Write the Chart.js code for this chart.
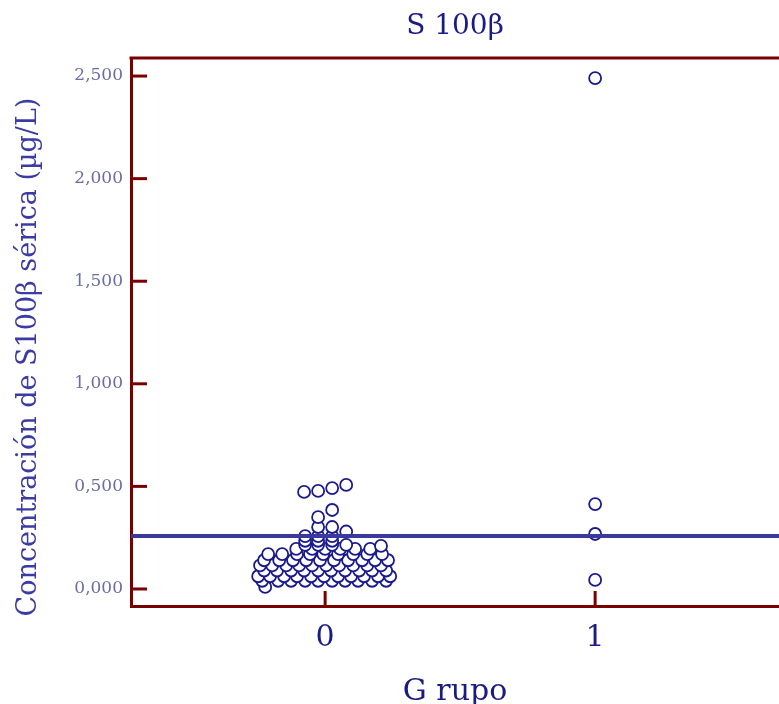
<!DOCTYPE html>
<html>
<head>
<meta charset="utf-8">
<script src="https://cdn.jsdelivr.net/npm/chart.js@4/dist/chart.umd.min.js"></script>
<style>
  html, body { margin: 0; padding: 0; background: #fff; }
  #wrap { width: 779px; height: 704px; }
</style>
</head>
<body>
<div id="wrap"><canvas id="s100Chart" width="779" height="704"></canvas></div>
<script>
// S100B serum concentration by group (dot plot + cut-off line)

const groups = [0, 1];
const xTickLabels = ['0', '1'];
const yTickValues = [0, 0.5, 1, 1.5, 2, 2.5];
const yTickLabels = ['0,000', '0,500', '1,000', '1,500', '2,000', '2,500'];

// group 0: horizontal jitter (in group units) and values (µg/L)
const group0Jitter = [
  -0.222,
  -0.233, -0.174, -0.126, -0.074, -0.026, 0.026, 0.074, 0.122, 0.174, 0.226,
  -0.248, -0.204, -0.152, -0.104, -0.052, -0.004, 0.048, 0.096, 0.144, 0.196, 0.241,
  -0.226, -0.178, -0.126, -0.078, -0.026, 0.022, 0.074, 0.126, 0.174, 0.226,
  -0.241, -0.196, -0.144, -0.096, -0.048, 0.004, 0.052, 0.104, 0.156, 0.207,
  -0.226, -0.170, -0.119, -0.070, -0.019, 0.033, 0.085, 0.137, 0.185, 0.233,
  -0.211, -0.159, -0.104, -0.056, -0.007, 0.048, 0.104, 0.156, 0.211,
  -0.107, -0.048, 0.000, 0.056, 0.111, 0.167,
  -0.074, -0.026, 0.026, 0.078, 0.207,
  -0.074, -0.026, 0.026,
  -0.074, -0.026, 0.026,
  0.078,
  -0.026, 0.026,
  -0.026,
  0.026,
  -0.078, -0.026, 0.026, 0.078
];
const group0Values = [
  0.010,
  0.040, 0.040, 0.040, 0.040, 0.040, 0.040, 0.040, 0.040, 0.040, 0.040,
  0.062, 0.062, 0.062, 0.062, 0.062, 0.062, 0.062, 0.062, 0.062, 0.062, 0.062,
  0.090, 0.090, 0.090, 0.090, 0.090, 0.090, 0.090, 0.090, 0.090, 0.090,
  0.115, 0.115, 0.115, 0.115, 0.115, 0.115, 0.115, 0.115, 0.115, 0.115,
  0.140, 0.140, 0.140, 0.140, 0.140, 0.140, 0.140, 0.140, 0.140, 0.140,
  0.170, 0.170, 0.170, 0.170, 0.170, 0.170, 0.170, 0.170, 0.170,
  0.195, 0.195, 0.195, 0.195, 0.195, 0.195,
  0.215, 0.215, 0.215, 0.215, 0.210,
  0.235, 0.235, 0.235,
  0.258, 0.258, 0.258,
  0.280,
  0.302, 0.302,
  0.350,
  0.385,
  0.473, 0.478, 0.492, 0.507
];
const group1Values = [2.490, 0.414, 0.268, 0.044];
const cutOff = 0.258;

const xMin = -0.719, xMax = 1.681;
const yMin = -0.083, yMax = 2.588;

const maroon = '#7a0000';
const navy = '#1b1b84';
const serif = "'DejaVu Serif', 'Liberation Serif', serif";

const group0Points = group0Values.map((v, i) => ({ x: groups[0] + group0Jitter[i], y: v }));
const group1Points = group1Values.map(v => ({ x: groups[1], y: v }));

// inward ticks, top border, rotated y title
const framePlugin = {
  id: 'frame',
  afterDraw(chart) {
    const ctx = chart.ctx;
    const area = chart.chartArea;
    const xs = chart.scales.x, ys = chart.scales.y;
    ctx.save();
    ctx.strokeStyle = maroon;
    ctx.lineWidth = 3;
    ctx.beginPath();
    ctx.moveTo(area.left - 1.5, area.top);
    ctx.lineTo(area.right, area.top);
    ctx.stroke();
    yTickValues.forEach(v => {
      const y = ys.getPixelForValue(v);
      ctx.beginPath();
      ctx.moveTo(area.left, y);
      ctx.lineTo(area.left + 16, y);
      ctx.stroke();
    });
    groups.forEach(g => {
      const x = xs.getPixelForValue(g);
      ctx.beginPath();
      ctx.moveTo(x, area.bottom);
      ctx.lineTo(x, area.bottom - 15);
      ctx.stroke();
    });
    ctx.fillStyle = '#3b3ba3';
    ctx.font = '27px ' + serif;
    ctx.textAlign = 'center';
    ctx.textBaseline = 'middle';
    ctx.translate(29, 357);
    ctx.rotate(-Math.PI / 2);
    ctx.fillText('Concentración de S100β sérica (µg/L)', 0, 0);
    ctx.restore();
  }
};

new Chart(document.getElementById('s100Chart').getContext('2d'), {
  type: 'scatter',
  data: {
    datasets: [
      {
        type: 'line',
        label: 'Punto de corte',
        data: [{ x: xMin, y: cutOff }, { x: xMax, y: cutOff }],
        borderColor: '#3a3a9c',
        borderWidth: 4,
        pointRadius: 0,
        fill: false
      },
      {
        label: 'Grupo 0',
        data: group0Points,
        pointRadius: 6,
        pointBackgroundColor: '#ffffff',
        pointBorderColor: '#1a1a8c',
        pointBorderWidth: 1.8
      },
      {
        label: 'Grupo 1',
        data: group1Points,
        pointRadius: 6,
        pointBackgroundColor: '#ffffff',
        pointBorderColor: '#1a1a8c',
        pointBorderWidth: 1.8
      }
    ]
  },
  options: {
    responsive: false,
    animation: false,
    layout: { autoPadding: false, padding: 0 },
    plugins: {
      legend: { display: false },
      tooltip: { enabled: false },
      title: {
        display: true,
        text: 'S 100β',
        fullSize: false,
        color: navy,
        font: { family: serif, size: 28, weight: 'normal' },
        padding: { top: 10, bottom: 14.4 }
      }
    },
    scales: {
      x: {
        type: 'linear',
        min: xMin,
        max: xMax,
        afterBuildTicks(scale) { scale.ticks = groups.map(v => ({ value: v })); },
        afterFit(scale) { scale.height = 98; },
        grid: { display: false, drawTicks: false },
        border: { color: maroon, width: 3 },
        ticks: {
          padding: 14,
          color: navy,
          font: { family: serif, size: 30 },
          callback: (v) => xTickLabels[groups.indexOf(v)]
        },
        title: {
          display: true,
          text: 'G rupo',
          color: navy,
          font: { family: serif, size: 30 },
          padding: { top: 0, bottom: -6 }
        }
      },
      y: {
        type: 'linear',
        min: yMin,
        max: yMax,
        afterBuildTicks(scale) { scale.ticks = yTickValues.map(v => ({ value: v })); },
        afterFit(scale) { scale.width = 131; },
        grid: { display: false, drawTicks: false },
        border: { color: maroon, width: 3 },
        ticks: {
          padding: 8,
          color: '#6c6ca6',
          font: { family: serif, size: 17 },
          callback: (v) => yTickLabels[yTickValues.indexOf(v)]
        }
      }
    }
  },
  plugins: [framePlugin]
});
</script>
</body>
</html>
